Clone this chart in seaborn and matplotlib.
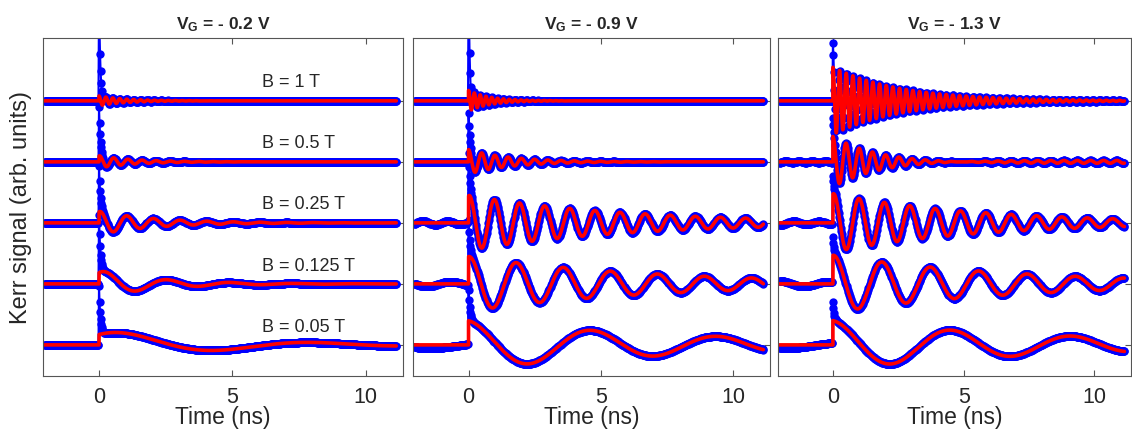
import numpy as np
import matplotlib
matplotlib.use('Agg')
import matplotlib.pyplot as plt
import seaborn as sns

# Trazas: campo magnetico y desplazamiento vertical
fields = [1, 0.5, 0.25, 0.125, 0.05]
field_labels = ['B = 1 T', 'B = 0.5 T', 'B = 0.25 T', 'B = 0.125 T', 'B = 0.05 T']
offsets = [4, 3, 2, 1, 0]
gate_titles = [r'$\mathbf{V_G}$ = - 0.2 V', r'$\mathbf{V_G}$ = - 0.9 V', r'$\mathbf{V_G}$ = - 1.3 V']

# Parametros del ajuste, una fila por panel
amplitude = [[0.08, 0.10, 0.19, 0.22, 0.24],
             [0.17, 0.20, 0.45, 0.45, 0.40],
             [0.55, 0.45, 0.48, 0.47, 0.40]]
period = [[0.26, 0.53, 1.00, 2.35, 7.20],
          [0.22, 0.50, 0.95, 1.78, 4.75],
          [0.255, 0.505, 0.97, 1.85, 4.60]]
decay = [[1.0, 1.3, 2.1, 2.2, 4.5],
         [0.8, 1.6, 6.0, 7.0, 9.0],
         [2.6, 1.8, 5.5, 7.0, 9.0]]
phase = [[0.0, -0.3, -0.3, -0.6, -0.785],
         [0.0, 0.0, -0.2, -0.1, 0.13],
         [0.0, 0.0, -0.2, -0.1, 0.10]]
amp_tail = [[0, 0, 0, 0, 0],
            [0, 0, 0, 0, 0],
            [0, 0.035, 0, 0, 0]]
tau_tail = 30.0
# pico coherente en t = 0 (solo en los datos)
spike = [[1.6, 0.8, 0.75, 0.95, 0.8],
         [1.6, 0.6, 0.7, 0.6, 0.5],
         [0.4, 0.3, 0.3, 0.3, 0.3]]
rep_period = 13.16
pre_scale = 0.5


def kerr_fit(t, i, j):
    w = 2 * np.pi / period[i][j]
    y = amplitude[i][j] * np.exp(-t / decay[i][j]) * np.cos(w * t + phase[i][j])
    y = y + amp_tail[i][j] * np.exp(-t / tau_tail) * np.cos(w * t + phase[i][j] + np.pi)
    return y


t_data = np.round(np.arange(-2.04, 11.16, 0.02), 3)
t_fit = np.concatenate([[-2.05, -1e-6], np.arange(0, 11.15, 0.004)])

sns.set_theme(style='ticks')
plt.rcParams['font.family'] = ['Liberation Sans', 'DejaVu Sans']
plt.rcParams['mathtext.fontset'] = 'custom'
plt.rcParams['mathtext.rm'] = 'Liberation Sans'
plt.rcParams['mathtext.bf'] = 'Liberation Sans:bold'

fig = plt.figure(figsize=(11.32, 4.39), dpi=100)
lefts = [43, 413, 778]
widths = [360, 357, 353]
frame = '#555555'

for i in range(3):
    ax = fig.add_axes([lefts[i] / 1132, 62 / 439, widths[i] / 1132, 338 / 439])

    # datos (azul)
    for j in range(5):
        pos = t_data >= 0
        tp = np.clip(t_data, 0, None)
        y = np.where(pos, kerr_fit(tp, i, j) + spike[i][j] * np.exp(-tp / 0.05),
                     pre_scale * kerr_fit(t_data + rep_period, i, j))
        sns.lineplot(x=t_data, y=y + offsets[j], ax=ax, color='blue', marker='o',
                     markersize=6, markeredgewidth=0, linewidth=1.5,
                     estimator=None, sort=False)
    # ajuste (rojo)
    for j in range(5):
        yf = np.where(t_fit >= 0, kerr_fit(np.clip(t_fit, 0, None), i, j), 0.0)
        sns.lineplot(x=t_fit, y=yf + offsets[j], ax=ax, color='red', linewidth=2.6,
                     estimator=None, sort=False)

    ax.set_xlim(-2.1, 11.4)
    ax.set_ylim(-0.51, 5.03)
    ax.set_xticks([0, 5, 10])
    ax.set_yticks(offsets)
    ax.set_yticklabels([])
    ax.tick_params(direction='in', top=True, right=True, length=4, width=0.8,
                   color=frame, labelsize=15.5, pad=7, labelcolor='#262626')
    for s in ax.spines.values():
        s.set_color(frame)
        s.set_linewidth(0.8)
    ax.set_title(gate_titles[i], fontsize=12.5, fontweight='bold', pad=7)
    ax.set_xlabel('Time (ns)', fontsize=16.5, labelpad=-1, color='#262626')
    if i == 0:
        ax.set_ylabel('Kerr signal (arb. units)', fontsize=17, labelpad=1, color='#262626')
        for j in range(5):
            ax.text(6.1, offsets[j] + 0.17, field_labels[j], fontsize=13, va='bottom')
    else:
        ax.set_ylabel('')

fig.savefig('out.png', dpi=100)
